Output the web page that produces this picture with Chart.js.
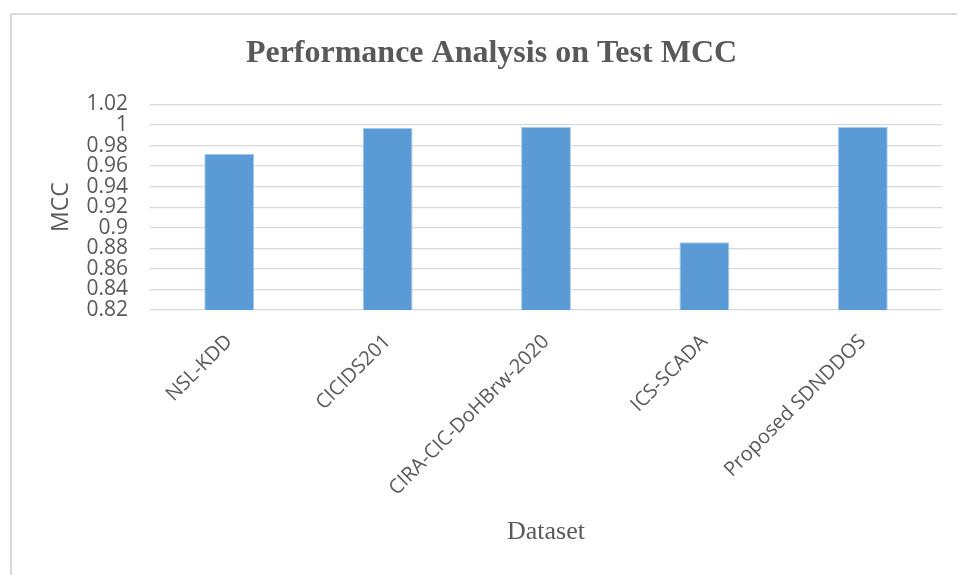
<!DOCTYPE html>
<html><head><meta charset="utf-8">
<script src="https://cdn.jsdelivr.net/npm/chart.js@4"></script>
<style>
html,body{margin:0;padding:0;background:#fff;}
#wrap{position:relative;width:957px;height:575px;overflow:hidden;}
#frame{position:absolute;left:10px;top:13px;right:-5px;bottom:-5px;border-top:2px solid #d9d9d9;border-left:2px solid #d9d9d9;pointer-events:none;}
canvas{position:absolute;left:0;top:0;}
</style></head><body>
<div id="wrap"><canvas id="c" width="957" height="575"></canvas><div id="frame"></div></div>
<script>
const categories = ['NSL-KDD', 'CICIDS201', 'CIRA-CIC-DoHBrw-2020', 'ICS-SCADA', 'Proposed SDNDDOS'];
const mccValues = [0.972, 0.997, 0.998, 0.886, 0.998];
const yTickValues = [0.82, 0.84, 0.86, 0.88, 0.9, 0.92, 0.94, 0.96, 0.98, 1, 1.02];
const yTickLabels = ['0.82', '0.84', '0.86', '0.88', '0.9', '0.92', '0.94', '0.96', '0.98', '1', '1.02'];

const textColor = '#595959';
const gridColor = '#d9d9d9';

new Chart(document.getElementById('c'), {
  type: 'bar',
  data: {
    labels: categories,
    datasets: [{
      label: 'MCC',
      data: mccValues,
      backgroundColor: '#5b9bd5',
      borderColor: '#a9cbea',
      borderWidth: 1,
      categoryPercentage: 1,
      barPercentage: 0.315
    }]
  },
  options: {
    responsive: false,
    animation: false,
    devicePixelRatio: 1,
    layout: { padding: { left: 41, right: 15, top: 14, bottom: 15 } },
    plugins: {
      legend: { display: false },
      tooltip: { enabled: false },
      title: {
        display: true,
        text: 'Performance Analysis on Test MCC',
        color: textColor,
        font: { family: '"Liberation Serif", "Times New Roman", serif', size: 32, weight: 'bold' },
        padding: { top: 21, bottom: 31 }
      }
    },
    scales: {
      x: {
        grid: { display: false },
        border: { display: false },
        ticks: {
          color: textColor,
          font: { family: '"Open Sans", sans-serif', size: 20 },
          minRotation: 45,
          maxRotation: 45,
          autoSkip: false,
          padding: 12
        },
        title: {
          display: true,
          text: 'Dataset',
          color: textColor,
          font: { family: '"Liberation Serif", "Times New Roman", serif', size: 26 },
          padding: { top: 0, bottom: 12 }
        },
        afterFit: function (s) { s.height = 250; }
      },
      y: {
        min: 0.82,
        max: 1.02,
        grid: { color: gridColor, lineWidth: 1.3, drawTicks: false },
        border: { display: false },
        afterBuildTicks: function (s) { s.ticks = yTickValues.map(v => ({ value: v })); },
        ticks: {
          color: textColor,
          font: { family: '"Open Sans", sans-serif', size: 21, lineHeight: 1 },
          padding: 22,
          autoSkip: false,
          callback: function (v, i) { return yTickLabels[i]; }
        },
        title: {
          display: true,
          text: 'MCC',
          color: textColor,
          font: { family: '"Open Sans", sans-serif', size: 23 },
          padding: { top: 7, bottom: 0 }
        },
        afterFit: function (s) { s.width = 109; }
      }
    }
  }
});
</script>
</body></html>
